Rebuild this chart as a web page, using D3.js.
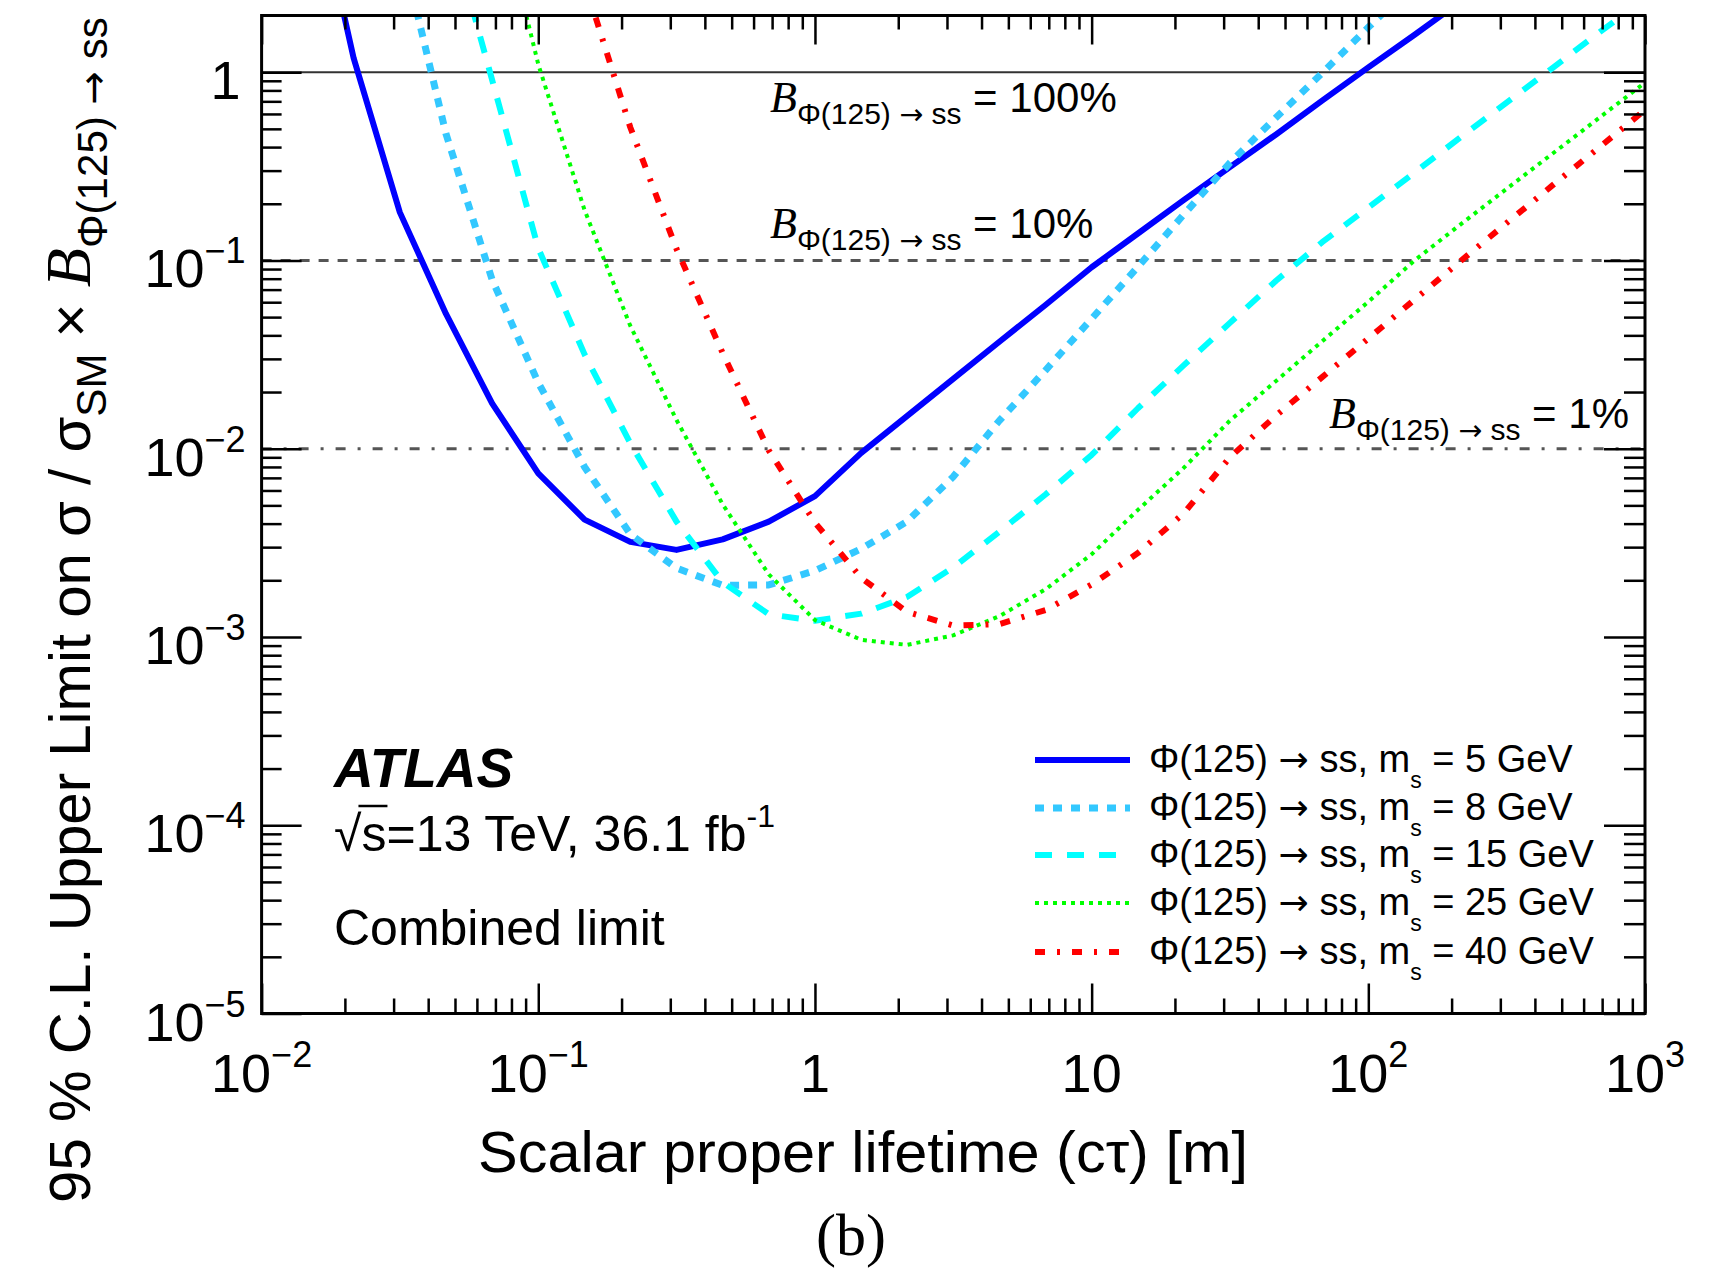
<!DOCTYPE html>
<html>
<head>
<meta charset="utf-8">
<script src="https://cdn.jsdelivr.net/npm/d3@7"></script>
<style>
  body { margin: 0; background: #fff; }
  text { font-family: "Liberation Sans", Arial, Helvetica, sans-serif; fill: #000; }
  .arrow { font-family: "DejaVu Sans", sans-serif; }
</style>
</head>
<body>
<div id="chart"></div>
<script>
// Canvas and frame, in pixels of the 1731x1270 page
const WIDTH = 1731;
const HEIGHT = 1270;
const MARGIN = { left: 261.6, right: 86, top: 15.5, bottom: 256.5 };

// ---- data ----
// scalar proper lifetime c*tau [m] where the limit curves have their vertices
const LIFETIME = [0.0147, 0.0215, 0.0316, 0.0464, 0.0681, 0.1, 0.147, 0.215, 0.316, 0.464,
                  0.681, 1, 1.47, 2.15, 3.16, 4.64, 6.81, 10, 14.7, 21.5,
                  31.6, 46.4, 68.1, 100, 147, 215, 316, 464, 681, 1000];

// 95% CL upper limit on sigma/sigma_SM x B, one array per scalar mass (null = not drawn)
const LIMIT_5GEV = [14.5, 1.19, 0.18, 0.052, 0.0174, 0.0074, 0.0042, 0.0032, 0.0029, 0.0033,
                    0.0041, 0.0056, 0.0095, 0.0149, 0.0235, 0.037, 0.058, 0.092, 0.139, 0.209,
                    0.313, 0.467, 0.706, 1.06, 1.58, 2.37, null, null, null, null];
const LIMIT_8GEV = [null, null, 5, 0.47, 0.079, 0.0224, 0.008, 0.00352, 0.00232, 0.00188,
                    0.00189, 0.00225, 0.00294, 0.0041, 0.0071, 0.0141, 0.0261, 0.049, 0.0925, 0.175,
                    0.33, 0.575, 0.99, 1.73, 3.0, null, null, null, null, null];
const LIMIT_15GEV = [null, null, null, 7, 0.91, 0.116, 0.0317, 0.0107, 0.0041, 0.00195,
                     0.00132, 0.00122, 0.00133, 0.00163, 0.00234, 0.00362, 0.00571, 0.00927, 0.0164, 0.0277,
                     0.0466, 0.078, 0.125, 0.191, 0.293, 0.45, 0.689, 1.055, 1.62, 2.45];
const LIMIT_25GEV = [null, null, null, null, 11, 1.1, 0.185, 0.045, 0.0142, 0.00506,
                     0.00215, 0.00123, 0.000966, 0.000908, 0.00102, 0.00129, 0.00179, 0.00275, 0.00473, 0.0079,
                     0.0141, 0.0229, 0.0372, 0.0603, 0.1, 0.155, 0.24, 0.37, 0.57, 0.88];
const LIMIT_40GEV = [null, null, null, null, null, null, 3.0, 0.51, 0.115, 0.0322,
                     0.0098, 0.00405, 0.00206, 0.00136, 0.00115, 0.00117, 0.00139, 0.0019, 0.00279, 0.00453,
                     0.009, 0.015, 0.024, 0.0385, 0.062, 0.099, 0.158, 0.251, 0.397, 0.63];

const SCALAR_MASS = [5, 8, 15, 25, 40];
const LIMITS = [LIMIT_5GEV, LIMIT_8GEV, LIMIT_15GEV, LIMIT_25GEV, LIMIT_40GEV];

// branching-ratio reference lines
const BR_LEVEL = [1, 0.1, 0.01];
const BR_TEXT = ['100%', '10%', '1%'];

// axis tick labels
const X_TICKS = [0.01, 0.1, 1, 10, 100, 1000];
const Y_TICKS = [1e-5, 1e-4, 1e-3, 1e-2, 1e-1, 1];

// ---- styles ----
const LINE_STYLE = [
  { color: '#0000ff', width: 6, dash: null },
  { color: '#33c8ff', width: 7, dash: '9,9' },
  { color: '#00ffff', width: 6, dash: '17,15' },
  { color: '#00ff00', width: 4, dash: '4,5' },
  { color: '#ff0000', width: 6, dash: '10,12,3,12' }
];
const BR_STYLE = [
  { dash: null, width: 2, color: '#333' },
  { dash: '10,9', width: 3, color: '#555' },
  { dash: '10,12,3,12', width: 3, color: '#555' }
];
// annotation positions: x of the italic B, baseline y
const BR_POS = [[770, 112], [770, 238], [1329, 428]];

setup();

function setup () {
  const svg = d3.select('#chart')
    .append('svg')
    .attr('width', WIDTH)
    .attr('height', HEIGHT);

  svg.append('rect')
    .attr('width', WIDTH).attr('height', HEIGHT)
    .attr('fill', '#fff');

  const x = d3.scaleLog()
    .domain([0.01, 1000])
    .range([MARGIN.left, WIDTH - MARGIN.right]);

  const y = d3.scaleLog()
    .domain([1e-5, 2])
    .range([HEIGHT - MARGIN.bottom, MARGIN.top]);

  const x0 = x.range()[0], x1 = x.range()[1];
  const y0 = y.range()[0], y1 = y.range()[1];

  svg.append('clipPath')
    .attr('id', 'plot-clip')
    .append('rect')
    .attr('x', x0).attr('y', y1)
    .attr('width', x1 - x0).attr('height', y0 - y1);

  // branching-ratio lines
  BR_LEVEL.forEach((v, i) => {
    svg.append('line')
      .attr('x1', x0).attr('x2', x1)
      .attr('y1', y(v)).attr('y2', y(v))
      .attr('stroke', BR_STYLE[i].color)
      .attr('stroke-width', BR_STYLE[i].width)
      .attr('stroke-dasharray', BR_STYLE[i].dash);
  });

  // limit curves
  const plot = svg.append('g').attr('clip-path', 'url(#plot-clip)');
  LIMITS.forEach((vals, i) => {
    const pts = LIFETIME.map((t, j) => [t, vals[j]]);
    const line = d3.line()
      .defined(d => d[1] != null)
      .x(d => x(d[0]))
      .y(d => y(d[1]));
    plot.append('path')
      .datum(pts)
      .attr('fill', 'none')
      .attr('stroke', LINE_STYLE[i].color)
      .attr('stroke-width', LINE_STYLE[i].width)
      .attr('stroke-dasharray', LINE_STYLE[i].dash)
      .attr('stroke-linejoin', 'round')
      .attr('d', line);
  });

  drawAxes(svg, x, y);
  drawLabels(svg, x, y);
  drawLegend(svg);
}

function isDecade (v) {
  const l = Math.log10(v);
  return Math.abs(l - Math.round(l)) < 1e-6;
}

function drawAxes (svg, x, y) {
  const x0 = x.range()[0], x1 = x.range()[1];
  const y0 = y.range()[0], y1 = y.range()[1];
  const xMinor = x.ticks().filter(v => !isDecade(v));
  const yMinor = y.ticks().filter(v => !isDecade(v) && v < 2);

  const ticks = [
    [d3.axisBottom(x).tickValues(X_TICKS).tickSize(-30), `translate(0,${y0})`],
    [d3.axisBottom(x).tickValues(xMinor).tickSize(-15), `translate(0,${y0})`],
    [d3.axisTop(x).tickValues(X_TICKS).tickSize(-29), `translate(0,${y1})`],
    [d3.axisTop(x).tickValues(xMinor).tickSize(-14), `translate(0,${y1})`],
    [d3.axisLeft(y).tickValues(Y_TICKS).tickSize(-40), `translate(${x0},0)`],
    [d3.axisLeft(y).tickValues(yMinor).tickSize(-20), `translate(${x0},0)`],
    [d3.axisRight(y).tickValues(Y_TICKS).tickSize(-41), `translate(${x1},0)`],
    [d3.axisRight(y).tickValues(yMinor).tickSize(-21), `translate(${x1},0)`]
  ];
  ticks.forEach(([axis, tr]) => {
    svg.append('g')
      .attr('transform', tr)
      .call(axis.tickFormat(''))
      .call(g => g.select('.domain').remove())
      .call(g => g.selectAll('line').attr('stroke', '#000').attr('stroke-width', 2.5));
  });

  svg.append('rect')
    .attr('x', x0).attr('y', y1)
    .attr('width', x1 - x0).attr('height', y0 - y1)
    .attr('fill', 'none')
    .attr('stroke', '#000')
    .attr('stroke-width', 3);

  // tick labels
  X_TICKS.forEach(v => {
    const t = svg.append('text')
      .attr('x', x(v)).attr('y', y0 + 78)
      .attr('text-anchor', 'middle')
      .style('font-size', '54px');
    powerLabel(t, v, 25);
  });
  Y_TICKS.forEach(v => {
    const t = svg.append('text')
      .attr('x', v === 1 ? x0 - 21 : x0 - 16).attr('y', y(v) + 27)
      .attr('text-anchor', 'end')
      .style('font-size', '54px');
    powerLabel(t, v, 24);
  });
}

function powerLabel (t, v, rise) {
  const e = Math.round(Math.log10(v));
  if (e === 0) { t.text('1'); return; }
  if (e === 1) { t.text('10'); return; }
  t.append('tspan').text('10');
  t.append('tspan')
    .attr('dy', -rise)
    .style('font-size', '36px')
    .text(e < 0 ? '\u2212' + (-e) : String(e));
}

function fitWidth (t, target) {
  const w = t.node().getBBox().width;
  return target / w;
}

// "Phi(125) -> ss" with a full-size arrow, lowered by dy
function decayText (t, size, dy) {
  t.append('tspan').attr('dy', dy).style('font-size', size + 'px').text('\u03a6(125) ');
  t.append('tspan').attr('class', 'arrow').style('font-size', (size * 0.95) + 'px').text('\u2192');
  t.append('tspan').style('font-size', size + 'px').text(' ss');
}

function drawLabels (svg, x, y) {
  // axis titles
  const xt = svg.append('text')
    .attr('text-anchor', 'middle')
    .style('font-size', '58px')
    .text('Scalar proper lifetime (c\u03c4) [m]');
  const sx = fitWidth(xt, 770);
  xt.attr('transform', `translate(863,1172) scale(${sx},1)`);

  const yt = svg.append('text')
    .attr('text-anchor', 'middle')
    .style('font-size', '58px');
  yt.append('tspan').text('95 % C.L. Upper Limit on \u03c3 / \u03c3');
  yt.append('tspan').attr('dy', 16).style('font-size', '42px').text('SM');
  yt.append('tspan').attr('dy', -16).text(' \u00d7 ');
  yt.append('tspan')
    .style('font-family', '"Liberation Serif", "Times New Roman", serif')
    .style('font-style', 'italic')
    .style('font-size', '64px')
    .text('B');
  decayText(yt, 42, 17);
  const sy = fitWidth(yt, 1186);
  yt.attr('transform', `translate(90,610) rotate(-90) scale(${sy},1)`);

  // branching-ratio annotations
  BR_TEXT.forEach((s, i) => {
    const [bx, by] = BR_POS[i];
    const t = svg.append('text')
      .attr('x', bx).attr('y', by)
      .style('font-size', '42px');
    t.append('tspan')
      .style('font-family', '"Liberation Serif", "Times New Roman", serif')
      .style('font-style', 'italic')
      .style('font-size', '44px')
      .text('B');
    decayText(t, 30, 12);
    t.append('tspan').attr('dy', -12).style('font-size', '42px').text(' = ' + s);
  });

  // experiment labels
  svg.append('text')
    .attr('x', 334).attr('y', 787)
    .style('font-size', '55px')
    .style('font-weight', 'bold')
    .style('font-style', 'italic')
    .text('ATLAS');

  const lumi = svg.append('text')
    .attr('x', 334).attr('y', 851)
    .style('font-size', '50px');
  lumi.append('tspan').text('\u221a');
  lumi.append('tspan').text('s=13 TeV, 36.1 fb');
  lumi.append('tspan').attr('dy', -24).style('font-size', '32px').text('-1');
  // bar of the square root over "s"
  const ext = lumi.node().getExtentOfChar(1);
  svg.append('line')
    .attr('x1', ext.x - 3).attr('x2', ext.x + ext.width + 1)
    .attr('y1', 806).attr('y2', 806)
    .attr('stroke', '#000').attr('stroke-width', 2.5);

  svg.append('text')
    .attr('x', 334).attr('y', 945)
    .style('font-size', '50px')
    .text('Combined limit');

  svg.append('text')
    .attr('x', 851).attr('y', 1255)
    .attr('text-anchor', 'middle')
    .style('font-family', '"Liberation Serif", "Times New Roman", serif')
    .style('font-size', '60px')
    .text('(b)');
}

function drawLegend (svg) {
  const rowY = [760, 808, 855, 903, 952];
  SCALAR_MASS.forEach((m, i) => {
    const st = LINE_STYLE[i];
    svg.append('line')
      .attr('x1', 1035).attr('x2', 1130)
      .attr('y1', rowY[i]).attr('y2', rowY[i])
      .attr('stroke', st.color)
      .attr('stroke-width', st.width)
      .attr('stroke-dasharray', st.dash);
    const t = svg.append('text')
      .attr('x', 1149).attr('y', rowY[i] + 12)
      .style('font-size', '38px');
    decayText(t, 38, 0);
    t.append('tspan').text(', m');
    t.append('tspan').attr('dy', 16).style('font-size', '23px').text('s');
    t.append('tspan').attr('dy', -16).text(` = ${m} GeV`);
  });
}
</script>
</body>
</html>
